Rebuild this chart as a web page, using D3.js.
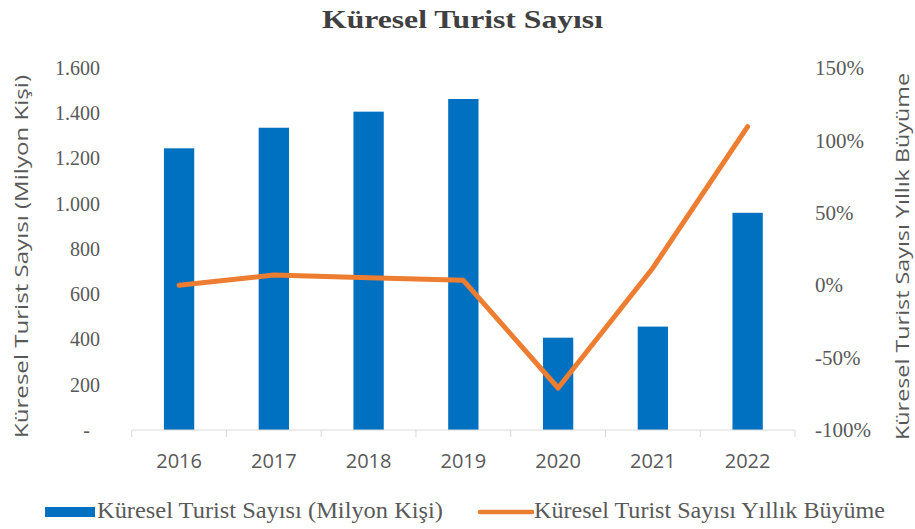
<!DOCTYPE html>
<html>
<head>
<meta charset="utf-8">
<script src="https://cdn.jsdelivr.net/npm/d3@7"></script>
<style>
  html, body { margin: 0; padding: 0; background: #fff; }
  svg { display: block; }
</style>
</head>
<body>
<svg id="chart" width="915" height="529"></svg>
<script>
// Yearly global tourist arrivals (million people) and annual growth (%)
const years = ["2016", "2017", "2018", "2019", "2020", "2021", "2022"];
const arrivals = [1245, 1336, 1407, 1463, 408, 457, 960];
const growth = [0, 7.0, 5.2, 3.4, -71, 11.9, 109.5];
const leftTicks = [0, 200, 400, 600, 800, 1000, 1200, 1400, 1600];
const rightTicks = [-100, -50, 0, 50, 100, 150];

const titleText = "Küresel Turist Sayısı";
const leftTitle = "Küresel Turist Sayısı (Milyon Kişi)";
const rightTitle = "Küresel Turist Sayısı Yıllık Büyüme";
const legendLabels = ["Küresel Turist Sayısı (Milyon Kişi)", "Küresel Turist Sayısı Yıllık Büyüme"];

const BLUE = "#0070C0", ORANGE = "#ED7D31", TEXT = "#595959";
const SERIF = "'Liberation Serif', 'Times New Roman', serif";
const SANS = "'Open Sans', 'Noto Sans', sans-serif";

const svg = d3.select("#chart");
const plot = { left: 131.7, right: 795, top: 68, bottom: 430 };

const x = d3.scaleBand().domain(years)
  .range([plot.left, plot.right]).paddingInner(0.68).paddingOuter(0.34);
const yL = d3.scaleLinear().domain([0, 1600]).range([plot.bottom, plot.top]);
const yR = d3.scaleLinear().domain([-100, 150]).range([plot.bottom, plot.top]);

// Title
svg.append("text")
  .attr("x", 462.5).attr("y", 28)
  .attr("text-anchor", "middle")
  .attr("font-family", SERIF).attr("font-weight", "bold").attr("font-size", 26)
  .attr("fill", "#404040")
  .attr("textLength", 281).attr("lengthAdjust", "spacingAndGlyphs")
  .text(titleText);

// Bars
svg.append("g").selectAll("rect").data(years).join("rect")
  .attr("x", d => x(d))
  .attr("width", x.bandwidth())
  .attr("y", (d, i) => yL(arrivals[i]))
  .attr("height", (d, i) => yL(0) - yL(arrivals[i]))
  .attr("fill", BLUE);

// Category axis: light baseline with ticks between categories
const xAxis = svg.append("g");
xAxis.append("line")
  .attr("x1", plot.left).attr("x2", plot.right)
  .attr("y1", plot.bottom).attr("y2", plot.bottom)
  .attr("stroke", "#d9d9d9").attr("stroke-width", 1);
const bounds = years.map((d, i) => plot.left + i * x.step());
bounds.push(plot.right);
xAxis.selectAll("line.tick").data(bounds).join("line")
  .attr("class", "tick")
  .attr("x1", d => d).attr("x2", d => d)
  .attr("y1", plot.bottom).attr("y2", plot.bottom + 7)
  .attr("stroke", "#d9d9d9").attr("stroke-width", 1);
xAxis.selectAll("text").data(years).join("text")
  .attr("x", d => x(d) + x.bandwidth() / 2)
  .attr("y", 468)
  .attr("text-anchor", "middle")
  .attr("font-family", SANS).attr("font-size", 20)
  .attr("fill", TEXT)
  .text(d => d);

// Left value axis (no line, labels only)
const fmtLeft = d => d === 0 ? "-" : d3.format(",")(d).replace(/,/g, ".");
const gL = svg.append("g")
  .attr("transform", `translate(100,0)`)
  .call(d3.axisLeft(yL).tickValues(leftTicks).tickFormat(fmtLeft).tickSize(0).tickPadding(0));
gL.select(".domain").remove();
gL.selectAll("text")
  .attr("font-family", SERIF).attr("font-size", 20).attr("fill", TEXT)
  .attr("dx", d => d === 0 ? -10 : 0);

// Right percentage axis
const gR = svg.append("g")
  .attr("transform", `translate(815,0)`)
  .call(d3.axisRight(yR).tickValues(rightTicks).tickFormat(d => d + "%").tickSize(0).tickPadding(0));
gR.select(".domain").remove();
gR.selectAll("text")
  .attr("font-family", SERIF).attr("font-size", 21).attr("fill", TEXT);

// Axis titles
svg.append("text")
  .attr("transform", "translate(28,256.5) rotate(-90)")
  .attr("text-anchor", "middle")
  .attr("font-family", SANS).attr("font-size", 19).attr("fill", TEXT)
  .attr("textLength", 363).attr("lengthAdjust", "spacingAndGlyphs")
  .text(leftTitle);
svg.append("text")
  .attr("transform", "translate(909,256.5) rotate(-90)")
  .attr("text-anchor", "middle")
  .attr("font-family", SANS).attr("font-size", 18).attr("fill", TEXT)
  .attr("textLength", 367).attr("lengthAdjust", "spacingAndGlyphs")
  .text(rightTitle);

// Growth line on the right axis
const line = d3.line()
  .x((d, i) => x(years[i]) + x.bandwidth() / 2)
  .y(d => yR(d));
svg.append("path")
  .datum(growth)
  .attr("d", line)
  .attr("fill", "none")
  .attr("stroke", ORANGE).attr("stroke-width", 5)
  .attr("stroke-linejoin", "round").attr("stroke-linecap", "round");

// Legend
const lg = svg.append("g");
lg.append("rect").attr("x", 45).attr("y", 507).attr("width", 50).attr("height", 10).attr("fill", BLUE);
lg.append("text").attr("x", 97).attr("y", 518)
  .attr("font-family", SERIF).attr("font-size", 23).attr("fill", TEXT)
  .attr("textLength", 346).attr("lengthAdjust", "spacingAndGlyphs")
  .text(legendLabels[0]);
lg.append("line").attr("x1", 480).attr("x2", 532).attr("y1", 512).attr("y2", 512)
  .attr("stroke", ORANGE).attr("stroke-width", 4.5).attr("stroke-linecap", "round");
lg.append("text").attr("x", 534).attr("y", 518)
  .attr("font-family", SERIF).attr("font-size", 23).attr("fill", TEXT)
  .attr("textLength", 351).attr("lengthAdjust", "spacingAndGlyphs")
  .text(legendLabels[1]);
</script>
</body>
</html>
